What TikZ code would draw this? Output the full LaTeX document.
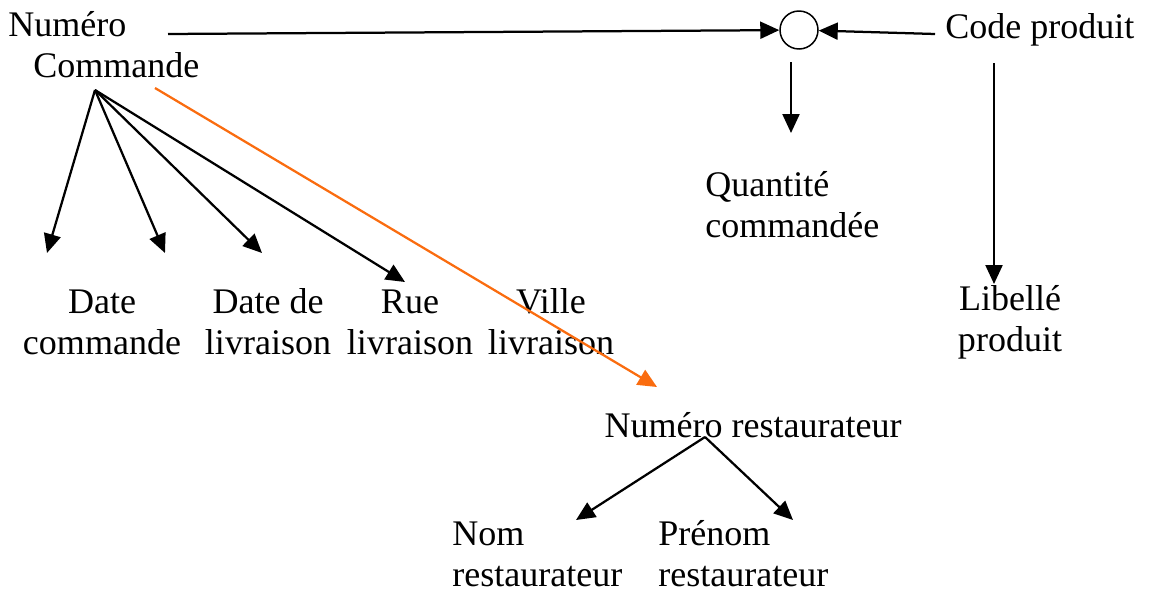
\documentclass[tikz,border=0pt]{standalone}
\usepackage{fontspec}
\setmainfont{Liberation Serif}
\usetikzlibrary{arrows.meta, positioning}
\definecolor{orangeline}{RGB}{250,108,15}

\begin{document}
\begin{tikzpicture}[x=0.02cm, y=-0.02cm,
    every node/.style={inner sep=0pt, font=\fontsize{20.5}{23.3}\selectfont},
    arr/.style={-{Triangle[length=0.38cm,width=0.34cm]}, line width=0.045cm},
    lien/.style={arr, draw=orangeline, fill=orangeline}]
\useasboundingbox (0,0) rectangle (1151,595);

% attributs
\node[anchor=north west, align=left] (numcmd) at (8,11) {Numéro\\\hspace*{0.5cm}Commande};
\node[circle, draw, line width=0.03cm, minimum size=0.76cm] (jn) at (799,30) {};
\node[anchor=west] (cp) at (945,30) {Code produit};
\node[anchor=west, align=left] (qte) at (705,205) {Quantité\\commandée};
\node[align=center] (lib) at (1010,322) {Libellé\\produit};
\node[align=center] (datecmd) at (102,322) {Date\\commande};
\node[align=center] (dateliv) at (268,322) {Date de\\livraison};
\node[align=center] (rueliv) at (410,322) {Rue\\livraison};
\node[align=center] (villeliv) at (551,322) {Ville\\livraison};
\node (numrest) at (753,425) {Numéro restaurateur};
\node[anchor=west, align=left] (nomrest) at (452,554) {Nom\\restaurateur};
\node[anchor=west, align=left] (prenomrest) at (658,554) {Prénom\\restaurateur};

% points d'attache
\coordinate (cmdstart) at (168,34);
\coordinate (cpstart) at (935,34);
\coordinate (fan) at (95,90);
\coordinate (toDatecmd) at (47,253);
\coordinate (toDateliv) at (165,253);
\coordinate (toDatel2) at (262,253);
\coordinate (toRue) at (405,282);
\coordinate (orstart) at (155,88);
\coordinate (toRest) at (657,387);
\coordinate (qstart) at (791,62);
\coordinate (toQte) at (791,133);
\coordinate (lstart) at (994,63);
\coordinate (toLib) at (994,284);
\coordinate (restfan) at (705,437);
\coordinate (toNom) at (576,520);
\coordinate (toPrenom) at (793,520);

% dependances
\draw[arr] (cmdstart) -- (jn);
\draw[arr] (cpstart) -- (jn);
\draw[arr] (qstart) -- (toQte);
\draw[arr] (lstart) -- (toLib);
\draw[arr] (fan) -- (toDatecmd);
\draw[arr] (fan) -- (toDateliv);
\draw[arr] (fan) -- (toDatel2);
\draw[arr] (fan) -- (toRue);
\draw[lien] (orstart) -- (toRest);
\draw[arr] (restfan) -- (toNom);
\draw[arr] (restfan) -- (toPrenom);
\end{tikzpicture}
\end{document}
